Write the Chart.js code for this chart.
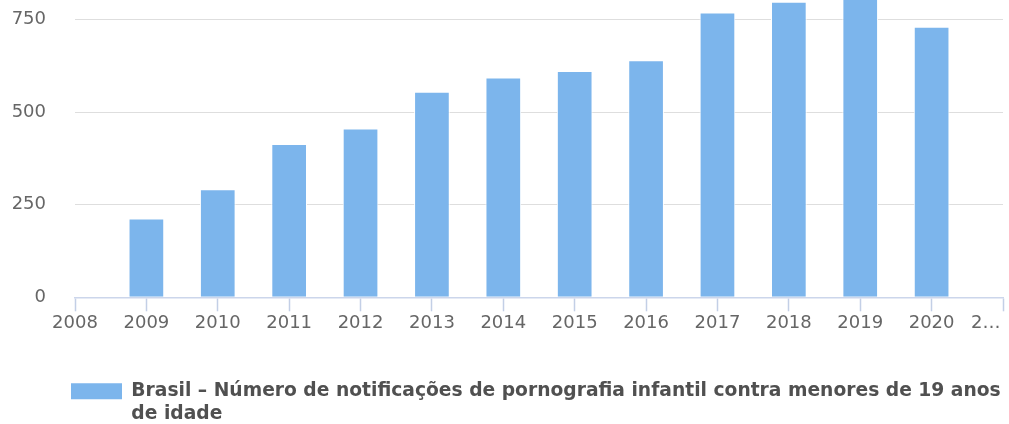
<!DOCTYPE html>
<html lang="pt">
<head>
  <meta charset="UTF-8">
  <title>Notificações de pornografia infantil - Brasil</title>
  <script src="https://cdn.jsdelivr.net/npm/chart.js"></script>
  <style>
    body {
      margin: 0;
      padding: 0;
      background: #ffffff;
    }
    .chart-container {
      width: 1009px;
      height: 424px;
    }
  </style>
</head>
<body>
  <div class="chart-container">
    <canvas id="notifChart" width="1009" height="424"></canvas>
  </div>
  <script>
    // Years on the x axis (the last one is cut off in the original)
    const years = ['2008', '2009', '2010', '2011', '2012', '2013', '2014', '2015',
                   '2016', '2017', '2018', '2019', '2020', '2…'];
    // Number of notifications per year
    const notificacoes = [null, 213, 292, 414, 456, 555, 594, 611, 640, 769, 798, 815, 731, null];
    // Y tick values and the visible top of the axis
    const yTickValues = [0, 250, 500, 750];
    const yTop = 803;

    const seriesLabel = [
      'Brasil – Número de notificações de pornografia infantil contra menores de 19 anos',
      'de idade'
    ];

    const barColor = '#7cb5ec';
    const axisColor = '#ccd6eb';
    const labelFont = { family: 'DejaVu Sans', size: 18 };

    // Legend: start the box a bit left of the plot and let the 2nd line show
    const legendFix = {
      id: 'legendFix',
      afterLayout(chart) {
        const lg = chart.legend;
        lg.left -= 14;
        lg.bottom = chart.height;
        lg.height = lg.bottom - lg.top;
      }
    };

    new Chart(document.getElementById('notifChart'), {
      type: 'bar',
      data: {
        labels: years,
        datasets: [{
          label: seriesLabel.join(' '),
          data: notificacoes,
          backgroundColor: barColor,
          borderColor: '#ffffff',
          borderWidth: 1,
          barPercentage: 0.5,
          categoryPercentage: 1,
        }],
      },
      options: {
        responsive: false,
        animation: false,
        layout: { padding: { top: 0, left: 0, right: 0, bottom: 13.3 } },
        plugins: {
          tooltip: { enabled: false },
          legend: {
            position: 'bottom',
            align: 'start',
            fullSize: false,
            labels: {
              boxWidth: 51,
              boxHeight: 16,
              padding: 10,
              color: '#505050',
              font: { family: 'DejaVu Sans', size: 18.7, weight: 'bold', lineHeight: 1.2 },
              generateLabels: () => [{
                text: seriesLabel,
                fillStyle: barColor,
                strokeStyle: barColor,
                lineWidth: 0,
                hidden: false,
                datasetIndex: 0,
                fontColor: '#505050',
              }],
            },
          },
        },
        scales: {
          x: {
            type: 'category',
            offset: false,
            grid: {
              offset: false,
              drawOnChartArea: false,
              drawTicks: true,
              tickLength: 14,
              tickWidth: 1.5,
              tickColor: '#c3cfe6',
            },
            border: { color: axisColor, width: 1.5 },
            ticks: {
              color: '#666666',
              font: labelFont,
              padding: 1,
              maxRotation: 0,
              autoSkip: false,
              // pad the last (cut) label so it sits left of its tick like the original
              callback: (value, index) => index === years.length - 1
                ? years[index] + '\u2007\u2007\u2007'
                : years[index],
            },
            afterFit: (scale) => {
              scale.paddingLeft = 0;
              scale.paddingRight = 6;
              scale.height = 74.7;
            },
          },
          y: {
            min: 0,
            max: yTop,
            afterBuildTicks: (scale) => {
              scale.ticks = yTickValues.map((v) => ({ value: v }));
            },
            grid: {
              color: '#dedede',
              lineWidth: 1,
              drawTicks: false,
            },
            border: { display: false },
            ticks: {
              color: '#666666',
              font: labelFont,
              padding: 29,
            },
            afterFit: (scale) => {
              scale.width = 75;
              scale.paddingTop = 0;
              scale.paddingBottom = 0;
            },
          },
        },
      },
      plugins: [legendFix],
    });
  </script>
</body>
</html>
